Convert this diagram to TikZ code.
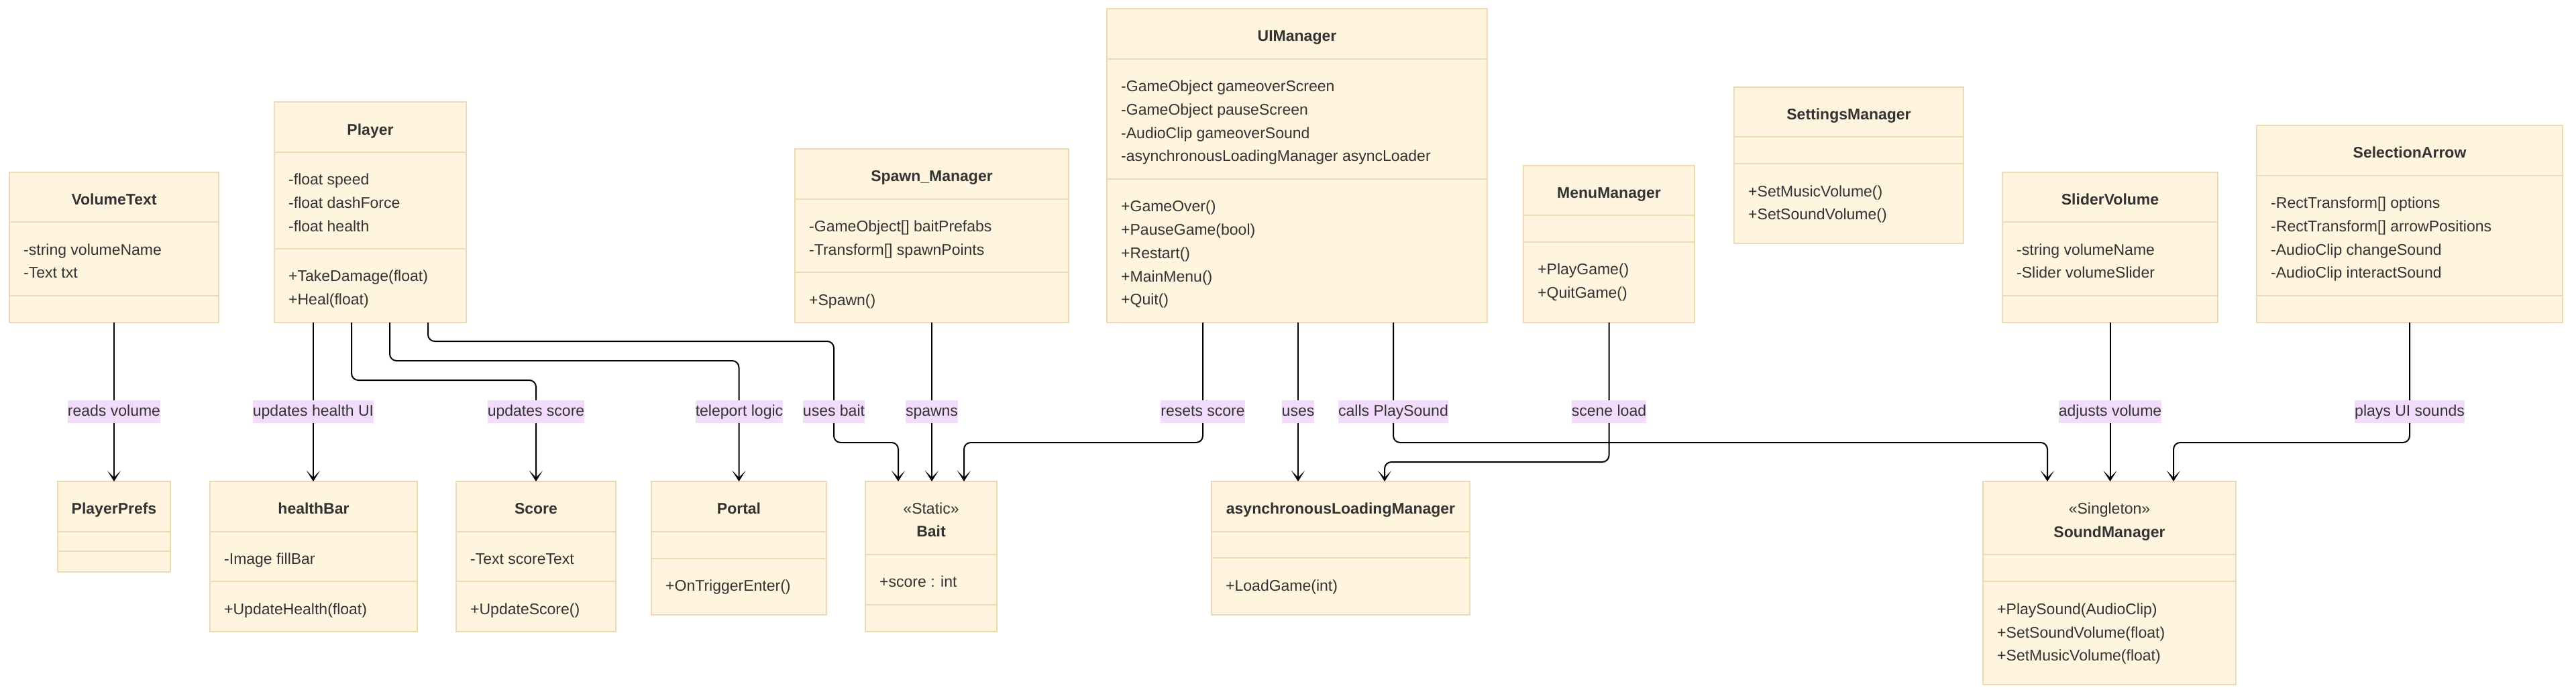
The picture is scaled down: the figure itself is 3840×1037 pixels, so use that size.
\documentclass[tikz,border=0pt]{standalone}
\usepackage{fontspec}
\setmainfont{Liberation Sans}
\usetikzlibrary{arrows.meta,calc}
\definecolor{boxfill}{RGB}{255,244,222}
\definecolor{boxline}{RGB}{236,219,178}
\definecolor{lblfill}{RGB}{243,219,251}
\definecolor{txtcol}{RGB}{51,51,51}
\newcount\tcnt
\newcommand{\umlbox}[5]{%
  \pgfmathsetmacro\bw{#4-#2}\pgfmathsetmacro\bh{#5-#3}%
  \node[umlrect, anchor=north west, minimum width=\bw pt, minimum height=\bh pt] (#1) at (#2,#3) {};}
\newcommand{\hdiv}[3]{\draw[divline] (#1,#3) -- (#2,#3);}
\newcommand{\ttl}[3]{\global\advance\tcnt by 1
  \node[titletext] (t\the\tcnt) at ({#1},{#2+8}) {#3};}
\newcommand{\stereo}[3]{\global\advance\tcnt by 1
  \node[stereotext] (t\the\tcnt) at ({#1},{#2+8}) {#3};}
\newcommand{\mem}[3]{\global\advance\tcnt by 1
  \node[memtext] (t\the\tcnt) at ({#1+21},{#2+8}) {#3};}
\begin{document}
\begin{tikzpicture}[x=1pt,y=-1pt,
  umlrect/.style={draw=boxline, fill=boxfill, line width=2pt, inner sep=0pt, outer sep=0pt},
  divline/.style={draw=boxline, line width=2pt},
  titletext/.style={anchor=base, inner sep=0pt, text=txtcol, font=\fontsize{23}{28}\selectfont\bfseries},
  stereotext/.style={anchor=base, inner sep=0pt, text=txtcol, font=\fontsize{23}{28}\selectfont},
  memtext/.style={anchor=base west, inner sep=0pt, text=txtcol, font=\fontsize{23}{28}\selectfont},
  conn/.style={draw=black, line width=2pt, rounded corners=10pt, -{Stealth[length=16pt,width=20pt,inset=10pt]}},
  lbl/.style={fill=lblfill, inner xsep=0pt, inner ysep=0pt, minimum height=34pt, text height=17pt, text depth=5pt, text=txtcol, font=\fontsize{23}{28}\selectfont}
]
\useasboundingbox[fill=white] (0,0) rectangle (3840,1037);

% ---------- top row ----------
\umlbox{volume}{14}{257}{326}{481}
\hdiv{14}{326}{331}\hdiv{14}{326}{441}
\ttl{170}{297}{VolumeText}
\mem{14}{372}{-string volumeName}
\mem{14}{406}{-Text txt}

\umlbox{player}{409}{152}{695}{481}
\hdiv{409}{695}{227}\hdiv{409}{695}{371}
\ttl{552}{193}{Player}
\mem{409}{267}{-float speed}
\mem{409}{302}{-float dashForce}
\mem{409}{337}{-float health}
\mem{409}{411}{+TakeDamage(float)}
\mem{409}{446}{+Heal(float)}

\umlbox{spawn}{1185}{222}{1593}{481}
\hdiv{1185}{1593}{297}\hdiv{1185}{1593}{406}
\ttl{1389}{262}{Spawn\_Manager}
\mem{1185}{337}{-GameObject[] baitPrefabs}
\mem{1185}{372}{-Transform[] spawnPoints}
\mem{1185}{447}{+Spawn()}

\umlbox{ui}{1650}{13}{2217}{481}
\hdiv{1650}{2217}{88}\hdiv{1650}{2217}{267}
\ttl{1933.5}{53}{UIManager}
\mem{1650}{128}{-GameObject gameoverScreen}
\mem{1650}{163}{-GameObject pauseScreen}
\mem{1650}{198}{-AudioClip gameoverSound}
\mem{1650}{232}{-asynchronousLoadingManager asyncLoader}
\mem{1650}{307}{+GameOver()}
\mem{1650}{342}{+PauseGame(bool)}
\mem{1650}{377}{+Restart()}
\mem{1650}{412}{+MainMenu()}
\mem{1650}{446}{+Quit()}

\umlbox{menu}{2271}{247}{2526}{481}
\hdiv{2271}{2526}{321}\hdiv{2271}{2526}{361}
\ttl{2398.5}{287}{MenuManager}
\mem{2271}{401}{+PlayGame()}
\mem{2271}{436}{+QuitGame()}

\umlbox{settings}{2585}{130}{2927}{363}
\hdiv{2585}{2927}{204}\hdiv{2585}{2927}{244}
\ttl{2756}{170}{SettingsManager}
\mem{2585}{285}{+SetMusicVolume()}
\mem{2585}{319}{+SetSoundVolume()}

\umlbox{slider}{2985}{257}{3306}{481}
\hdiv{2985}{3306}{331}\hdiv{2985}{3306}{441}
\ttl{3145.5}{297}{SliderVolume}
\mem{2985}{372}{-string volumeName}
\mem{2985}{406}{-Slider volumeSlider}

\umlbox{selarrow}{3364}{187}{3820}{481}
\hdiv{3364}{3820}{262}\hdiv{3364}{3820}{441}
\ttl{3592}{227}{SelectionArrow}
\mem{3364}{302}{-RectTransform[] options}
\mem{3364}{337}{-RectTransform[] arrowPositions}
\mem{3364}{372}{-AudioClip changeSound}
\mem{3364}{406}{-AudioClip interactSound}

% ---------- bottom row ----------
\umlbox{prefs}{86}{718}{254}{853}
\hdiv{86}{254}{793}\hdiv{86}{254}{822}
\ttl{170}{758}{PlayerPrefs}

\umlbox{health}{313}{718}{622}{942}
\hdiv{313}{622}{793}\hdiv{313}{622}{867}
\ttl{467.5}{758}{healthBar}
\mem{313}{833}{-Image fillBar}
\mem{313}{908}{+UpdateHealth(float)}

\umlbox{score}{680}{718}{918}{942}
\hdiv{680}{918}{793}\hdiv{680}{918}{867}
\ttl{799}{758}{Score}
\mem{680}{833}{-Text scoreText}
\mem{680}{908}{+UpdateScore()}

\umlbox{portal}{971}{718}{1232}{917}
\hdiv{971}{1232}{793}\hdiv{971}{1232}{833}
\ttl{1101.5}{758}{Portal}
\mem{971}{873}{+OnTriggerEnter()}

\umlbox{bait}{1290}{718}{1486}{942}
\hdiv{1290}{1486}{827}\hdiv{1290}{1486}{902}
\stereo{1388}{758}{«Static»}
\ttl{1388}{792}{Bait}
\mem{1290}{867}{+score : int}

\umlbox{async}{1806}{718}{2191}{917}
\hdiv{1806}{2191}{793}\hdiv{1806}{2191}{832}
\ttl{1998.5}{758}{asynchronousLoadingManager}
\mem{1806}{873}{+LoadGame(int)}

\umlbox{sound}{2956}{718}{3333}{1021}
\hdiv{2956}{3333}{827}\hdiv{2956}{3333}{867}
\stereo{3144.5}{758}{«Singleton»}
\ttl{3144.5}{793}{SoundManager}
\mem{2956}{908}{+PlaySound(AudioClip)}
\mem{2956}{943}{+SetSoundVolume(float)}
\mem{2956}{977}{+SetMusicVolume(float)}

% ---------- connectors ----------
\draw[conn] (volume.south) -- (volume.south |- prefs.north);
\draw[conn] ([xshift=-85pt]player.south) -- ([xshift=-85pt]player.south |- health.north);
\draw[conn] ([xshift=-28pt]player.south) -- ++(0,86) -| (score.north);
\draw[conn] ([xshift=29pt]player.south) -- ++(0,57) -| (portal.north);
\draw[conn] ([xshift=86pt]player.south) -- ++(0,28) -| ($(player.south)+(691,179)$) -| ([xshift=-49pt]bait.north);
\draw[conn] (spawn.south) -- (spawn.south |- bait.north);
\draw[conn] ([xshift=-140.5pt]ui.south) -- ++(0,179) -| ([xshift=49pt]bait.north);
\draw[conn] ([xshift=1.5pt]ui.south) -- ([xshift=1.5pt]ui.south |- async.north);
\draw[conn] ([xshift=143.5pt]ui.south) -- ++(0,179) -| ([xshift=-92.5pt]sound.north);
\draw[conn] (menu.south) -- ++(0,208) -| ([xshift=65.5pt]async.north);
\draw[conn] (slider.south) -- (slider.south |- sound.north);
\draw[conn] (selarrow.south) -- ++(0,179) -| ([xshift=95.5pt]sound.north);

% ---------- labels ----------
\node[lbl] (l1) at (170,614) {reads volume};
\node[lbl] (l2) at (467,614) {updates health UI};
\node[lbl] (l3) at (799,614) {updates score};
\node[lbl] (l4) at (1102,614) {teleport logic};
\node[lbl] (l5) at (1243,614) {uses bait};
\node[lbl] (l6) at (1389,614) {spawns};
\node[lbl] (l7) at (1793,614) {resets score};
\node[lbl] (l8) at (1935,614) {uses};
\node[lbl] (l9) at (2077,614) {calls PlaySound};
\node[lbl] (l10) at (2398.5,614) {scene load};
\node[lbl] (l11) at (3145.5,614) {adjusts volume};
\node[lbl] (l12) at (3592,614) {plays UI sounds};
\end{tikzpicture}
\end{document}
